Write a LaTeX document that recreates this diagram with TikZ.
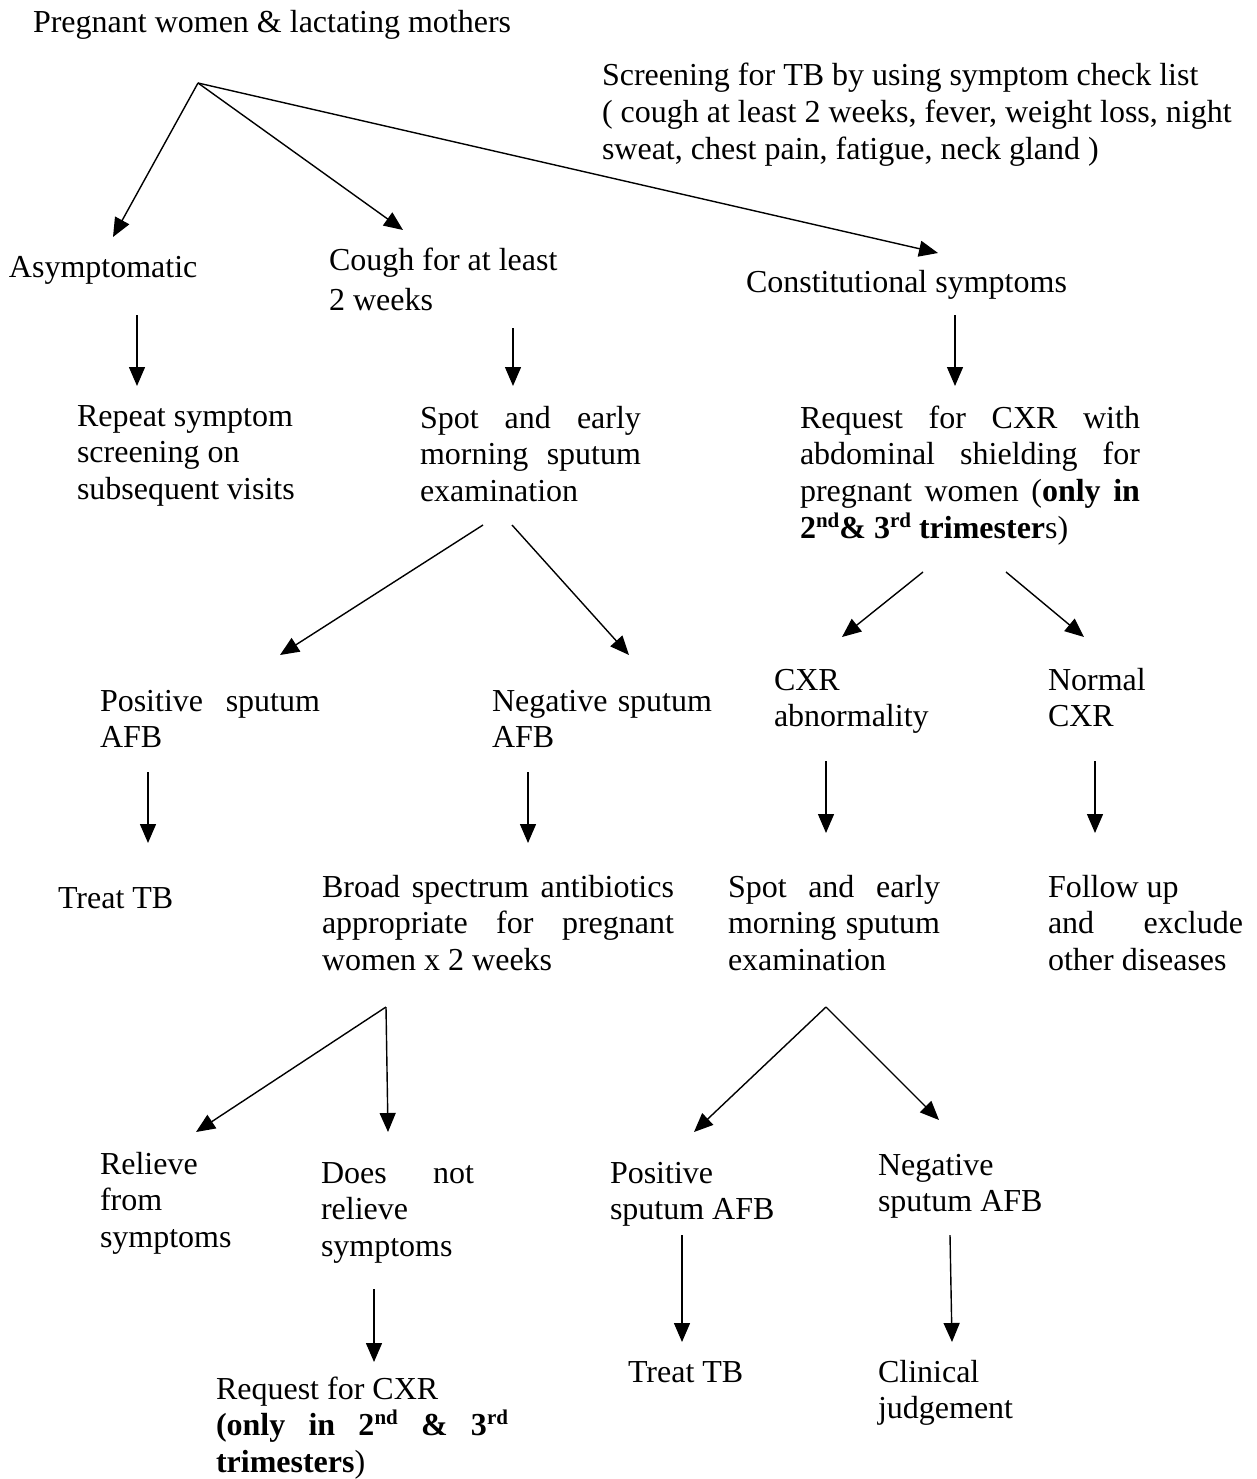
\documentclass[tikz,border=0pt]{standalone}
\usepackage{fontspec}
\setmainfont{Liberation Serif}
\usetikzlibrary{arrows.meta}

% a text block whose reference point is the baseline of its first line
\newcommand\tblock[2]{\parbox[t]{#1}{#2}}
% a line spread out to a given width (justified line)
\newcommand\jline[2]{\makebox[#1][s]{#2}}
% ordinal suffix set small and raised
\newcommand\ordsup[1]{\raisebox{11pt}{\fontsize{21}{21}\selectfont #1}}

\tikzset{
  txt/.style={anchor=base west, inner sep=0pt, outer sep=0pt,
              font=\fontsize{32}{36.7}\selectfont},
  arr/.style={-{Triangle[length=19pt,width=16pt]}, line width=1.4pt},
}

\begin{document}
\begin{tikzpicture}[x=1pt, y=-1pt]
\fill[white] (0,0) rectangle (1257,1479);
\useasboundingbox (0,0) rectangle (1257,1479);

% ---------- texts ----------
\node[txt] (title) at (33,33) {Pregnant women \& lactating mothers};
\node[txt] (screen) at (602,86) {\tblock{700pt}{Screening for TB by using symptom check list\\[0.3pt]
  ( cough at least 2 weeks, fever, weight loss, night\\[0.3pt]
  sweat, chest pain, fatigue, neck gland )}};

\node[txt] (asym) at (9,277) {Asymptomatic};
\node[txt] (cough) at (329,270) {\tblock{400pt}{Cough for at least\\[3.3pt] 2 weeks}};
\node[txt] (constit) at (746,292) {Constitutional symptoms};

\node[txt] (repeat) at (77,426) {\tblock{400pt}{Repeat symptom\\ screening on\\ subsequent visits}};
\node[txt] (spotA) at (420,428) {\tblock{221pt}{\jline{221pt}{Spot and early}\\
  \jline{221pt}{morning sputum}\\ examination}};
\node[txt] (reqA) at (800,428) {\tblock{340pt}{\jline{340pt}{Request for CXR with}\\
  \jline{340pt}{abdominal shielding for}\\
  \jline{340pt}{pregnant women (\textbf{only in}}\\
  \textbf{2\ordsup{nd}\& 3\ordsup{rd} trimester}s)}};

\node[txt] (cxrabn) at (774,690) {\tblock{300pt}{CXR\\ abnormality}};
\node[txt] (normal) at (1048,690) {\tblock{200pt}{Normal\\ CXR}};
\node[txt] (posA) at (100,711) {\tblock{220pt}{\jline{220pt}{Positive sputum}\\ AFB}};
\node[txt] (negA) at (492,711) {\tblock{220pt}{\jline{220pt}{Negative sputum}\\ AFB}};

\node[txt] (treatA) at (58,908) {Treat TB};
\node[txt] (broad) at (322,897) {\tblock{352pt}{\jline{352pt}{Broad spectrum antibiotics}\\
  \jline{352pt}{appropriate for pregnant}\\ women x 2 weeks}};
\node[txt] (spotB) at (728,897) {\tblock{212pt}{\jline{212pt}{Spot and early}\\
  \jline{212pt}{morning sputum}\\ examination}};
\node[txt] (follow) at (1048,897) {\tblock{195pt}{Follow up\\
  \jline{195pt}{and exclude}\\ other diseases}};

\node[txt] (relieve) at (100,1174) {\tblock{200pt}{Relieve\\ from\\ symptoms}};
\node[txt] (doesnot) at (321,1183) {\tblock{153pt}{\jline{153pt}{Does not}\\ relieve\\ symptoms}};
\node[txt] (posB) at (610,1183) {\tblock{250pt}{Positive\\ sputum AFB}};
\node[txt] (negB) at (878,1175) {\tblock{250pt}{Negative\\ sputum AFB}};

\node[txt] (treatB) at (628,1382) {Treat TB};
\node[txt] (clin) at (878,1382) {\tblock{250pt}{Clinical\\ judgement}};
\node[txt] (reqB) at (216,1399) {\tblock{292pt}{Request for CXR\\
  \jline{292pt}{\textbf{(only in 2\ordsup{nd} \& 3\ordsup{rd}}}\\
  \textbf{trimesters})}};

% ---------- connector end points ----------
\coordinate (fan)        at (198,83);
\coordinate (asymIn)     at (113,237);
\coordinate (coughIn)    at (403,230);
\coordinate (constitIn)  at (938,253);

\coordinate (asymOut)    at (137,315);
\coordinate (repeatIn)   at (137,386);
\coordinate (coughOut)   at (513,328);
\coordinate (spotAIn)    at (513,386);
\coordinate (constitOut) at (955,315);
\coordinate (reqAIn)     at (955,386);

\coordinate (spotAOutL)  at (483,525);
\coordinate (spotAOutR)  at (512,525);
\coordinate (posAIn)     at (280,655);
\coordinate (negAIn)     at (629,655);

\coordinate (reqAOutL)   at (923,572);
\coordinate (reqAOutR)   at (1006,572);
\coordinate (cxrabnIn)   at (842,637);
\coordinate (normalIn)   at (1084,637);

\coordinate (posAOut)    at (148,772);
\coordinate (treatAIn)   at (148,843);
\coordinate (negAOut)    at (528,772);
\coordinate (broadIn)    at (528,843);
\coordinate (cxrabnOut)  at (826,761);
\coordinate (spotBIn)    at (826,833);
\coordinate (normalOut)  at (1095,761);
\coordinate (followIn)   at (1095,833);

\coordinate (broadOut)   at (386,1007);
\coordinate (relieveIn)  at (196,1132);
\coordinate (doesnotIn)  at (388,1132);
\coordinate (spotBOut)   at (826,1007);
\coordinate (posBIn)     at (694,1132);
\coordinate (negBIn)     at (939,1120);

\coordinate (doesnotOut) at (374,1289);
\coordinate (reqBIn)     at (374,1362);
\coordinate (posBOut)    at (682,1235);
\coordinate (treatBIn)   at (682,1342);
\coordinate (negBOut)    at (950,1235);
\coordinate (clinIn)     at (952,1342);

% ---------- connectors ----------
\draw[arr] (fan) -- (asymIn);
\draw[arr] (fan) -- (coughIn);
\draw[arr] (fan) -- (constitIn);

\draw[arr] (asymOut) -- (repeatIn);
\draw[arr] (coughOut) -- (spotAIn);
\draw[arr] (constitOut) -- (reqAIn);

\draw[arr] (spotAOutL) -- (posAIn);
\draw[arr] (spotAOutR) -- (negAIn);
\draw[arr] (reqAOutL) -- (cxrabnIn);
\draw[arr] (reqAOutR) -- (normalIn);

\draw[arr] (posAOut) -- (treatAIn);
\draw[arr] (negAOut) -- (broadIn);
\draw[arr] (cxrabnOut) -- (spotBIn);
\draw[arr] (normalOut) -- (followIn);

\draw[arr] (broadOut) -- (relieveIn);
\draw[arr] (broadOut) -- (doesnotIn);
\draw[arr] (spotBOut) -- (posBIn);
\draw[arr] (spotBOut) -- (negBIn);

\draw[arr] (doesnotOut) -- (reqBIn);
\draw[arr] (posBOut) -- (treatBIn);
\draw[arr] (negBOut) -- (clinIn);
\end{tikzpicture}
\end{document}
